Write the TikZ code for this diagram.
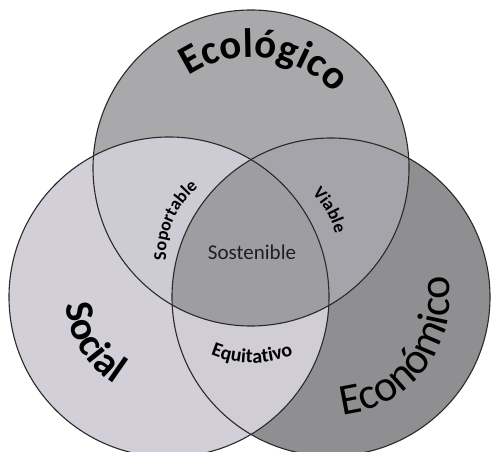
\documentclass[tikz,border=0pt]{standalone}
\usepackage{fontspec}
\setmainfont{Carlito}
\usetikzlibrary{decorations.text}
\definecolor{ecoc}{HTML}{A9A9AB}
\definecolor{socc}{HTML}{D2CFD8}
\definecolor{ecnc}{HTML}{8F8F91}
\definecolor{eso}{HTML}{CDCBD3}
\definecolor{een}{HTML}{A4A4AA}
\definecolor{sen}{HTML}{D0CDD5}
\definecolor{allc}{HTML}{9E9EA2}
\definecolor{linec}{HTML}{2A2A2A}
\tikzset{
  ring/.style={draw=linec, line width=1.1pt},
  arctext/.style={decorate, decoration={text along path, text align=center, text={#1}}}
}
\begin{document}
\begin{tikzpicture}[x=1pt,y=1pt]
\useasboundingbox (0,0) rectangle (491,451);
\fill[white] (0,0) rectangle (491,451);
% centres
\coordinate (E) at (251,283);
\coordinate (S) at (169,154);
\coordinate (N) at (331,154);
\coordinate (M) at (252,196);
\def\rE{158}\def\rS{160}\def\rN{159}
% single regions
\fill[ecoc] (E) circle[radius=\rE];
\fill[socc] (S) circle[radius=\rS];
\fill[ecnc] (N) circle[radius=\rN];
% pairwise
\begin{scope}\clip (E) circle[radius=\rE]; \fill[eso] (S) circle[radius=\rS];\end{scope}
\begin{scope}\clip (E) circle[radius=\rE]; \fill[een] (N) circle[radius=\rN];\end{scope}
\begin{scope}\clip (S) circle[radius=\rS]; \fill[sen] (N) circle[radius=\rN];\end{scope}
\begin{scope}\clip (E) circle[radius=\rE]; \clip (S) circle[radius=\rS]; \fill[allc] (N) circle[radius=\rN];\end{scope}
% outlines
\draw[ring] (E) circle[radius=\rE];
\draw[ring] (S) circle[radius=\rS];
\draw[ring] (N) circle[radius=\rN];
% big labels
\path[arctext={|\bfseries\fontsize{41}{41}\selectfont|Ecológico}] (E) ++(145:111) arc[start angle=145, end angle=21, radius=111];
\path[arctext={|\bfseries\fontsize{40}{40}\selectfont|Social}] (S) ++(151:103) arc[start angle=151, end angle=271, radius=103];
\path[arctext={|\fontsize{44}{44}\selectfont|Económico}] (N) ++(-97:119) arc[start angle=-97, end angle=23, radius=119];
% small labels
\path[arctext={|\bfseries\fontsize{18}{18}\selectfont|Soportable}] (M) ++(206:86) arc[start angle=206, end angle=106, radius=86];
\path[arctext={|\bfseries\fontsize{18}{18}\selectfont|Viable}] (M) ++(80:86) arc[start angle=80, end angle=-20, radius=86];
\path[arctext={|\bfseries\fontsize{20}{20}\selectfont|Equitativo}] (M) ++(220:108) arc[start angle=220, end angle=320, radius=108];
\node[text=black!88, font=\fontsize{21}{21}\selectfont] (sost) at (252,199) {Sostenible};
\end{tikzpicture}
\end{document}
